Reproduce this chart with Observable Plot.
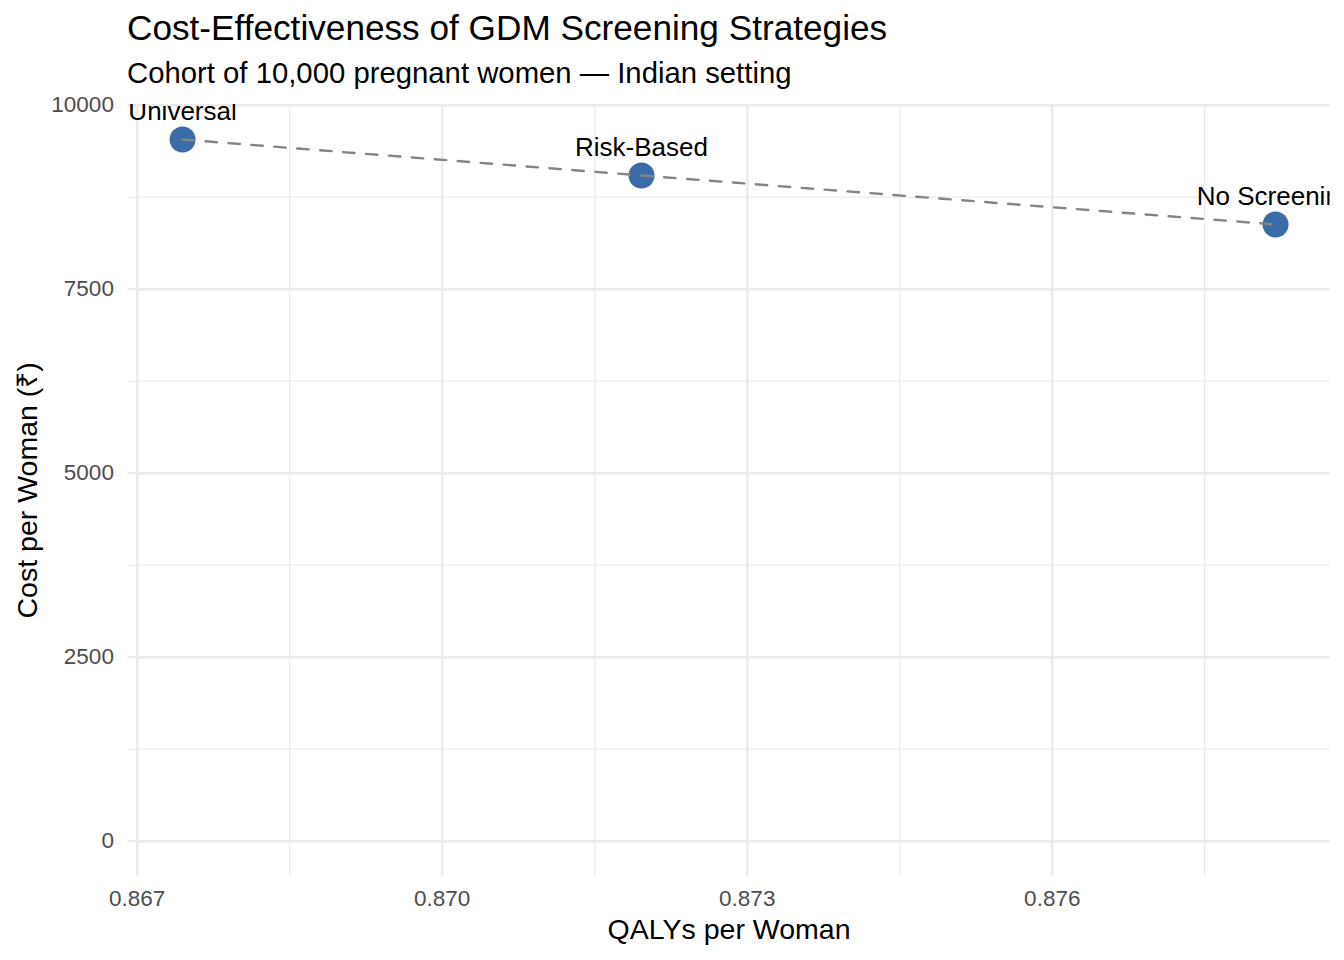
<!DOCTYPE html>
<html>
<head>
<meta charset="utf-8">
<script src="https://cdn.jsdelivr.net/npm/d3@7"></script>
<script src="https://cdn.jsdelivr.net/npm/@observablehq/plot@0.6"></script>
<style>
  html, body { margin: 0; padding: 0; background: #fff; }
  #wrap { position: relative; width: 1344px; height: 960px; overflow: hidden; font-family: "Liberation Sans", Arial, Helvetica, sans-serif; }
  .title { position: absolute; left: 127px; top: 9.5px; font-size: 35.2px; line-height: 35.2px; color: #000; white-space: nowrap; }
  .subtitle { position: absolute; left: 127px; top: 57.5px; font-size: 29.3px; line-height: 29.3px; color: #000; white-space: nowrap; }
  #chart { position: absolute; left: 0; top: 90px; }
</style>
</head>
<body>
<div id="wrap">
  <div class="title">Cost-Effectiveness of GDM Screening Strategies</div>
  <div class="subtitle">Cohort of 10,000 pregnant women — Indian setting</div>
  <div id="chart"></div>
</div>
<script>
// ---- data ----
const strategies = ["Universal", "Risk-Based", "No Screening"];
const qalys = [0.867446, 0.871960, 0.878196];
const costs = [9534, 9045, 8379];

const xMajorTicks = [0.867, 0.870, 0.873, 0.876];
const xMinorTicks = [0.8685, 0.8715, 0.8745, 0.8775];
const yMajorTicks = [0, 2500, 5000, 7500, 10000];
const yMinorTicks = [1250, 3750, 6250, 8750];

const xTitle = "QALYs per Woman";
const yTitle = "Cost per Woman (₹)";

// ---- table ----
const rows = strategies.map((s, i) => ({strategy: s, qaly: qalys[i], cost: costs[i]}));

// ggplot-like 5% expansion
const [x0, x1] = d3.extent(qalys);
const xPad = (x1 - x0) * 0.05;
const yMax = d3.max(costs);
const yPad = yMax * 0.05;

const font = "Liberation Sans, Arial, Helvetica, sans-serif";
const gridColor = "#ebebeb";

const chart = Plot.plot({
  width: 1344,
  height: 870,
  marginLeft: 127.4,
  marginRight: 14.3,
  marginTop: 13.9,
  marginBottom: 84.2,
  style: {fontFamily: font, background: "white", overflow: "visible"},
  x: {domain: [x0 - xPad, x1 + xPad]},
  y: {domain: [0 - yPad, yMax + yPad]},
  marks: [
    Plot.ruleX(xMinorTicks, {stroke: gridColor, strokeWidth: 1.3}),
    Plot.ruleY(yMinorTicks, {stroke: gridColor, strokeWidth: 1.3}),
    Plot.ruleX(xMajorTicks, {stroke: gridColor, strokeWidth: 2.6}),
    Plot.ruleY(yMajorTicks, {stroke: gridColor, strokeWidth: 2.6}),
    Plot.axisX({ticks: xMajorTicks, tickSize: 0, tickPadding: 14, fontSize: 22.5, fill: "#4d4d4d", tickFormat: d3.format(".3f"), label: null}),
    Plot.axisY({ticks: yMajorTicks, tickSize: 0, tickPadding: 14, fontSize: 22.5, fill: "#4d4d4d", tickFormat: d => String(d), label: null}),
    Plot.dot(rows, {x: "qaly", y: "cost", r: 13, fill: "#3a6da8", stroke: "none"}),
    Plot.line(rows, {x: "qaly", y: "cost", stroke: "#858585", strokeWidth: 2.4, strokeDasharray: "11.5,11.5"}),
    Plot.text(rows, {x: "qaly", y: "cost", text: "strategy", dy: -19, lineAnchor: "bottom", textAnchor: "middle", fontSize: 26, fill: "#000", clip: true}),
    Plot.text([xTitle], {frameAnchor: "bottom", text: d => d, dy: 63, lineAnchor: "bottom", textAnchor: "middle", fontSize: 28.5, fill: "#000"}),
    Plot.text([yTitle], {frameAnchor: "left", text: d => d, dx: -91, rotate: -90, lineAnchor: "bottom", textAnchor: "middle", fontSize: 28.5, fill: "#000"})
  ]
});
document.getElementById("chart").appendChild(chart);
</script>
</body>
</html>
